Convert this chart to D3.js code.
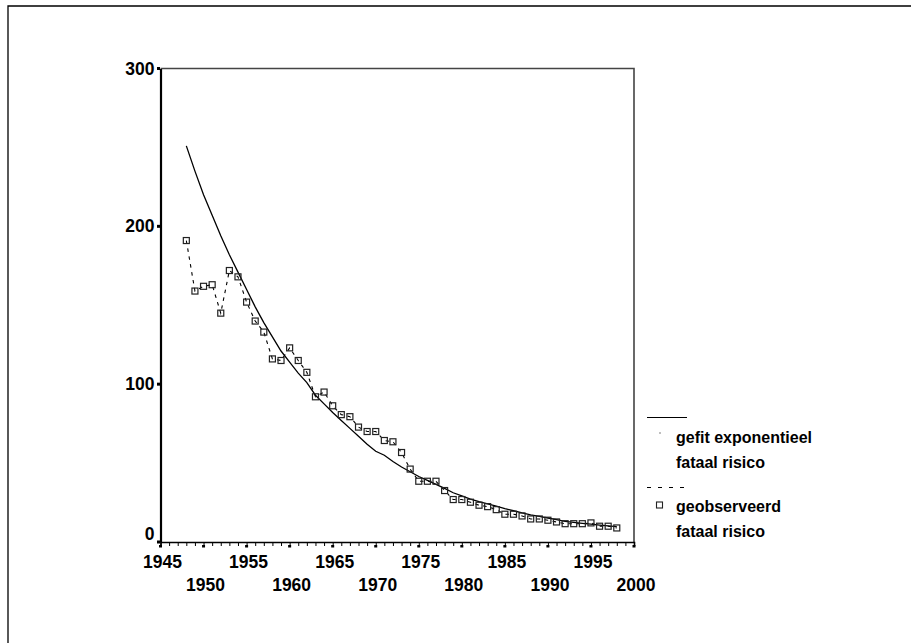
<!DOCTYPE html>
<html>
<head>
<meta charset="utf-8">
<script src="https://cdn.jsdelivr.net/npm/d3@7"></script>
<style>
  html, body { margin: 0; padding: 0; background: #fff; }
  svg { display: block; }
  text { font-family: "Liberation Sans", Arial, sans-serif; font-weight: bold; fill: #000; }
</style>
</head>
<body>
<svg id="chart" width="911" height="643"></svg>
<script>
// ---- data ----
const years = d3.range(1948, 1999);
const observed = [191, 159, 162, 163, 145, 172, 168, 152, 140, 133,
  116, 115, 123, 115, 107.5, 92, 95, 86.3, 80.7, 79.4,
  72.8, 70, 70, 64.3, 63.5, 56.7, 46.2, 38.5, 38.5, 38.5,
  32.6, 26.9, 26.9, 25.2, 23.3, 22.4, 20.5, 17.6, 17.6, 16.5,
  14.6, 14.6, 13.8, 12.7, 11.6, 11.6, 11.6, 12.1, 10, 10, 8.9];
const fitted = [251, 235, 220, 207, 194, 182, 171, 160, 149, 139,
  130, 121, 114, 107, 101, 93, 87.5, 82, 77, 72,
  67, 62, 57.5, 55, 51, 47.5, 44.5, 41.5, 39, 36.5,
  34, 31.2, 29.2, 27.2, 25.6, 24.2, 22.8, 21.2, 19.8, 18.4,
  17.2, 16.2, 15.2, 14.2, 13.0, 12.4, 11.8, 11.3, 10.7, 10.2, 9.7];
const yTicks = [0, 100, 200, 300];
const xLabelsRow1 = [1945, 1955, 1965, 1975, 1985, 1995];
const xLabelsRow2 = [1950, 1960, 1970, 1980, 1990, 2000];
const legendFitted = ["gefit exponentieel", "fataal risico"];
const legendObserved = ["geobserveerd", "fataal risico"];

// ---- layout ----
const svg = d3.select("#chart");
const x = d3.scaleLinear().domain([1945, 2000]).range([160.5, 634]);
const y = d3.scaleLinear().domain([0, 300]).range([542, 68.5]);

// outer frame (top and left only)
svg.append("path").attr("d", "M8,643 L8,6 L911,6")
  .attr("fill", "none").attr("stroke", "#000").attr("stroke-width", 1.3);

// plot border top & right
svg.append("path")
  .attr("d", `M${x(1945)},${y(300)} L${x(2000)},${y(300)} L${x(2000)},${y(0)}`)
  .attr("fill", "none").attr("stroke", "#444").attr("stroke-width", 1.6);

// x axis: yearly minor ticks
const xAxis = svg.append("g").attr("transform", `translate(0,${y(0)})`)
  .call(d3.axisBottom(x).tickValues(d3.range(1945, 2001)).tickSize(4).tickFormat(""));
xAxis.select(".domain").attr("stroke", "#000").attr("stroke-width", 1.6);
xAxis.selectAll(".tick line").attr("stroke", "#000").attr("stroke-width", 1);
// dots at every 5 years
svg.selectAll("rect.xdot").data(d3.range(1945, 2001, 5)).join("rect")
  .attr("class", "xdot")
  .attr("x", d => x(d) - 1.5).attr("y", y(0) + 3).attr("width", 3).attr("height", 2.5)
  .attr("fill", "#000");

svg.selectAll("text.xl1").data(xLabelsRow1).join("text")
  .attr("class", "xl1").attr("x", d => x(d) + 2).attr("y", 568)
  .attr("text-anchor", "middle").attr("font-size", 17.5)
  .text(d => d);
svg.selectAll("text.xl2").data(xLabelsRow2).join("text")
  .attr("class", "xl2").attr("x", d => x(d) + 2).attr("y", 591)
  .attr("text-anchor", "middle").attr("font-size", 17.5)
  .text(d => d);

// y axis
const yAxis = svg.append("g").attr("transform", `translate(${x(1945)},0)`)
  .call(d3.axisLeft(y).tickValues(yTicks).tickSize(0).tickPadding(6));
yAxis.select(".domain").attr("stroke", "#000").attr("stroke-width", 2.2);
yAxis.selectAll(".tick text").attr("font-size", 17.5)
  .attr("font-family", "Liberation Sans, Arial, sans-serif").attr("font-weight", "bold")
  .attr("fill", "#000")
  .attr("transform", d => d === 0 ? "translate(0,-8)" : null);
svg.selectAll("rect.ydot").data(yTicks).join("rect")
  .attr("class", "ydot")
  .attr("x", x(1945) - 3.5).attr("y", d => y(d) - 1.5).attr("width", 3).attr("height", 3)
  .attr("fill", "#000");

// fitted line
const line = d3.line().x((d, i) => x(years[i])).y(d => y(d));
svg.append("path").datum(fitted).attr("d", line)
  .attr("fill", "none").attr("stroke", "#000").attr("stroke-width", 1.3);

// observed dashed line
svg.append("path").datum(observed).attr("d", line)
  .attr("fill", "none").attr("stroke", "#000").attr("stroke-width", 1.1)
  .attr("stroke-dasharray", "3.5,4.5");

// observed squares
svg.selectAll("rect.obs").data(observed).join("rect")
  .attr("class", "obs")
  .attr("x", (d, i) => x(years[i]) - 3).attr("y", d => y(d) - 3)
  .attr("width", 6).attr("height", 6)
  .attr("fill", "none").attr("stroke", "#222").attr("stroke-width", 1.2);

// legend
const lg = svg.append("g");
lg.append("line").attr("x1", 647).attr("x2", 687).attr("y1", 417.5).attr("y2", 417.5)
  .attr("stroke", "#000").attr("stroke-width", 1.2);
lg.append("rect").attr("x", 659.5).attr("y", 432.5).attr("width", 1).attr("height", 1).attr("fill", "#000");
legendFitted.forEach((t, i) => {
  lg.append("text").attr("x", 676).attr("y", 443 + i * 25).attr("font-size", 16)
    .text(t);
});
lg.append("line").attr("x1", 647).attr("x2", 687).attr("y1", 487.5).attr("y2", 487.5)
  .attr("stroke", "#000").attr("stroke-width", 1.1).attr("stroke-dasharray", "4,7");
lg.append("rect").attr("x", 656.5).attr("y", 502).attr("width", 6).attr("height", 6)
  .attr("fill", "none").attr("stroke", "#222").attr("stroke-width", 1.1);
legendObserved.forEach((t, i) => {
  lg.append("text").attr("x", 676).attr("y", 512 + i * 25).attr("font-size", 16)
    .text(t);
});
</script>
</body>
</html>
